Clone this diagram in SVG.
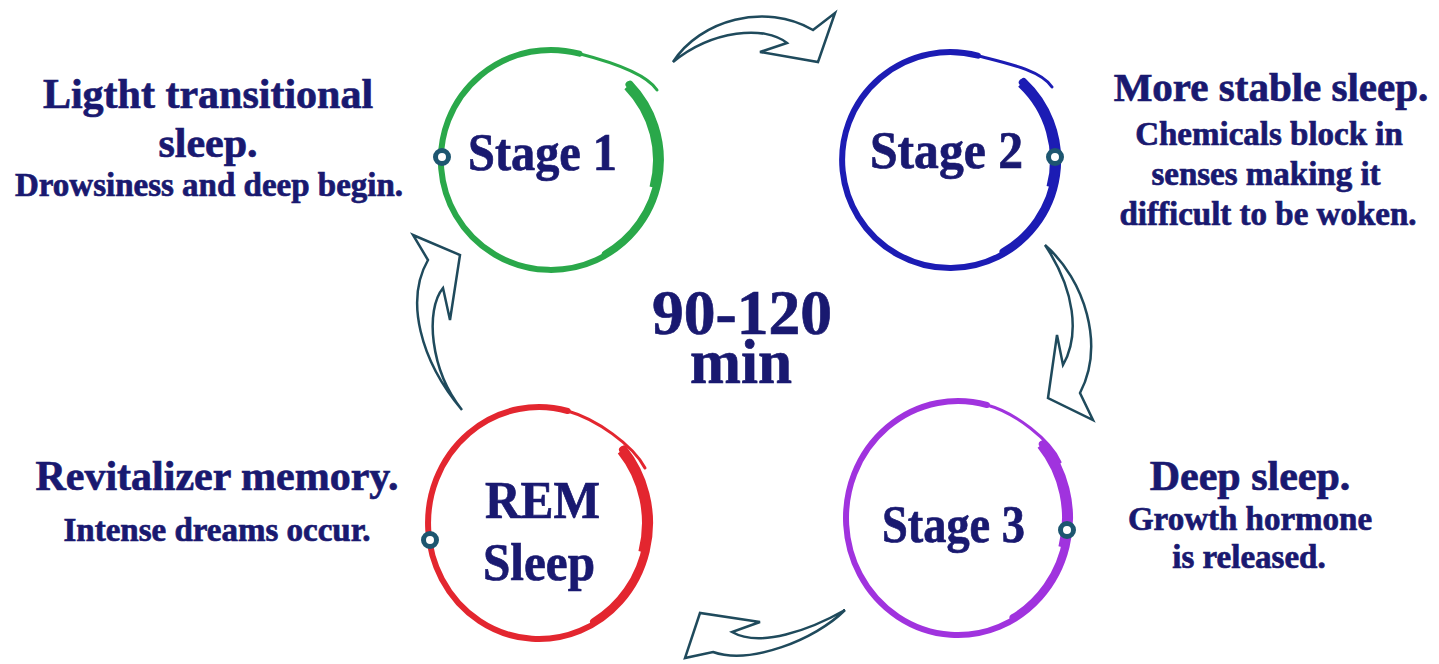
<svg xmlns="http://www.w3.org/2000/svg" width="1439" height="664" viewBox="0 0 1439 664">
<style>
.t{font-family:"Liberation Serif","Times New Roman",serif;font-weight:bold;fill:#191970;stroke:#191970;stroke-width:0.7}
.big{font-size:42px;text-anchor:middle}
.sm{font-size:33px;text-anchor:middle}
.lbl{font-size:52px}
.ctr{font-size:63px}
.ring{fill:none;stroke-width:6;stroke-linecap:round}
.tail{fill:none;stroke-width:3;stroke-linecap:round}
.thick1{fill:none;stroke-width:7;stroke-linecap:round}
.thick2{fill:none;stroke-width:10;stroke-linecap:butt}
.dot{fill:#fff;stroke:#1d5670;stroke-width:5}
.arrow{fill:#fff;stroke:#1f4a5c;stroke-width:2.5;stroke-linejoin:miter}
</style>
<rect width="1439" height="664" fill="#fff"/>

<g id="connectors">
<path class="arrow" d="M673,62 C700,20 765,2 813,30 L835,13 L818,62 L760,52 L787,43 C765,25 712,30 673,62 Z"/>
<path class="arrow" d="M1045,245 C1085,280 1105,345 1080,393 L1093,420 L1048,398 L1057,335 L1063,365 C1080,335 1075,290 1045,245 Z"/>
<path class="arrow" d="M845,610 C815,640 750,665 713,652 L685,658 L700,613 L760,622 L732,632 C760,648 810,630 845,610 Z"/>
<path class="arrow" d="M462,410 C420,360 405,300 428,260 L413,235 L460,255 L450,320 L443,288 C425,310 430,370 462,410 Z"/>
</g>

<g id="stage1">
<path class="ring" stroke="#2aa84a" d="M630.1,83.6 A110,110 0 1 1 579.5,53.7"/>
<path class="tail" stroke="#2aa84a" d="M579.5,53.7 C608,61 646,73 657,90"/>
<path class="thick1" stroke="#2aa84a" d="M629,84.6 A108.5,108.5 0 0 1 605.3,254"/>
<path class="thick2" stroke="#2aa84a" d="M628,85.7 A107,107 0 0 1 654.4,187.7"/>
<circle class="dot" cx="442" cy="157" r="6.5"/>
<text class="t lbl" x="468" y="170" textLength="149" lengthAdjust="spacingAndGlyphs">Stage 1</text>
</g>

<g id="stage2">
<path class="ring" stroke="#1c1cb4" d="M1023.7,81 A108,108 0 1 1 977.9,55.7"/>
<path class="tail" stroke="#1c1cb4" d="M977.9,55.7 C1006,63 1041,70 1052,87"/>
<path class="thick1" stroke="#1c1cb4" d="M1022.3,82.5 A106,106 0 0 1 1003,251.8"/>
<path class="thick2" stroke="#1c1cb4" d="M1021.6,83.2 A105,105 0 0 1 1051.4,187.2"/>
<circle class="dot" cx="1055" cy="157" r="6.5"/>
<text class="t lbl" x="870" y="168" textLength="153" lengthAdjust="spacingAndGlyphs">Stage 2</text>
</g>

<g id="stage3">
<path class="ring" stroke="#a033de" d="M1043.8,442.8 A112,117 0 1 1 987,405"/>
<path class="tail" stroke="#a033de" d="M987,405 C1016,413 1050,440 1060,462"/>
<path class="thick1" stroke="#a033de" d="M1042.3,444.1 A110,115 0 0 1 1013,617.6"/>
<path class="thick2" stroke="#a033de" d="M1041.5,444.7 A109,114 0 0 1 1063.3,547.5"/>
<circle class="dot" cx="1067" cy="530" r="6.5"/>
<text class="t lbl" x="882" y="542" textLength="143" lengthAdjust="spacingAndGlyphs">Stage 3</text>
</g>

<g id="rem">
<path class="ring" stroke="#e3262f" d="M624,448.4 A111,116 0 1 1 567.7,411"/>
<path class="tail" stroke="#e3262f" d="M567.7,411 C596,419 633,445 645,468"/>
<path class="thick1" stroke="#e3262f" d="M622.5,449.7 A109,114 0 0 1 593.5,621.7"/>
<path class="thick2" stroke="#e3262f" d="M621.7,450.4 A108,113 0 0 1 643.3,552.2"/>
<circle class="dot" cx="430" cy="540" r="6.5"/>
<text class="t lbl" x="485" y="518" textLength="115" lengthAdjust="spacingAndGlyphs">REM</text>
<text class="t lbl" x="483" y="580" textLength="112" lengthAdjust="spacingAndGlyphs">Sleep</text>
</g>

<g id="center">
<text class="t ctr" x="652" y="334" textLength="180" lengthAdjust="spacingAndGlyphs">90-120</text>
<text class="t ctr" x="690" y="383" textLength="102" lengthAdjust="spacingAndGlyphs">min</text>
</g>

<g id="desc-stage1">
<text class="t big" x="208" y="108">Ligtht transitional</text>
<text class="t big" x="208" y="157">sleep.</text>
<text class="t sm" x="209" y="196">Drowsiness and deep begin.</text>
</g>

<g id="desc-stage2">
<text class="t big" x="1271" y="101" style="font-size:41px">More stable sleep.</text>
<text class="t sm" x="1269" y="145">Chemicals block in</text>
<text class="t sm" x="1266" y="185">senses making it</text>
<text class="t sm" x="1268" y="225">difficult to be woken.</text>
</g>

<g id="desc-rem">
<text class="t big" x="217" y="490">Revitalizer memory.</text>
<text class="t sm" x="217" y="541">Intense dreams occur.</text>
</g>

<g id="desc-stage3">
<text class="t big" x="1250" y="490">Deep sleep.</text>
<text class="t sm" x="1250" y="530">Growth hormone</text>
<text class="t sm" x="1249" y="568">is released.</text>
</g>
</svg>
